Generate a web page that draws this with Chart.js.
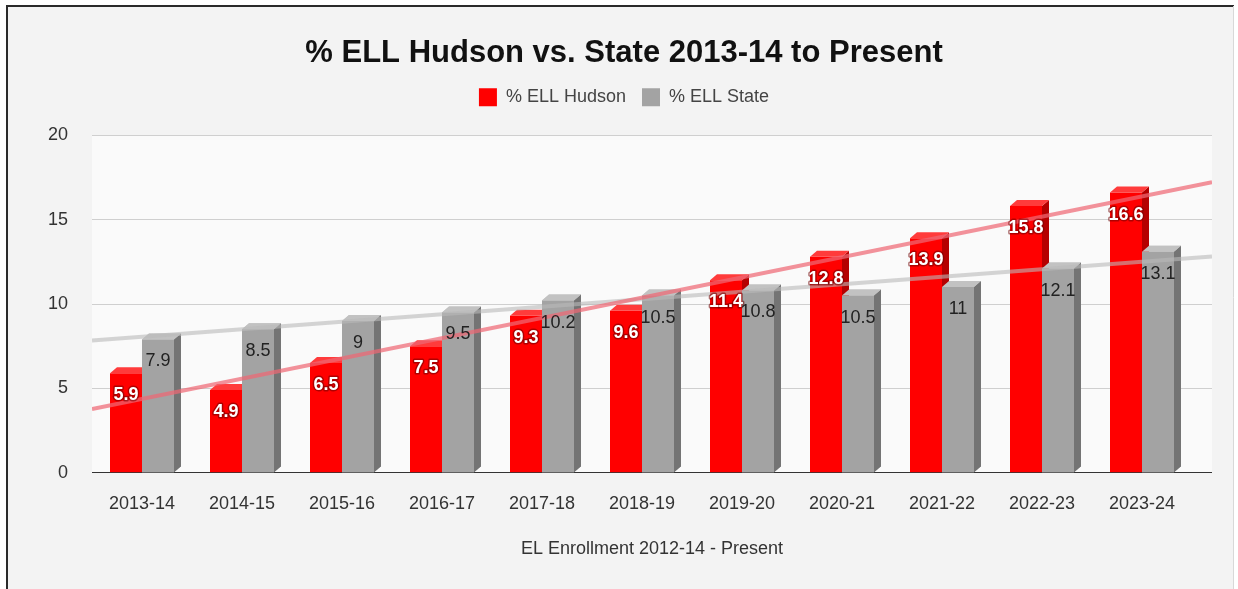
<!DOCTYPE html>
<html>
<head>
<meta charset="utf-8">
<script src="https://cdn.jsdelivr.net/npm/chart.js@4/dist/chart.umd.min.js"></script>
<style>
  html, body { margin: 0; padding: 0; background: #fff; }
  #wrap { width: 1238px; height: 589px; }
</style>
</head>
<body>
<div id="wrap"><canvas id="ellChart" width="1238" height="589"></canvas></div>
<script>
const categories = ['2013-14', '2014-15', '2015-16', '2016-17', '2017-18', '2018-19',
  '2019-20', '2020-21', '2021-22', '2022-23', '2023-24'];
const hudsonValues = [5.9, 4.9, 6.5, 7.5, 9.3, 9.6, 11.4, 12.8, 13.9, 15.8, 16.6];
const stateValues = [7.9, 8.5, 9, 9.5, 10.2, 10.5, 10.8, 10.5, 11, 12.1, 13.1];
const yTicks = [0, 5, 10, 15, 20];

const X_MIN = -0.5;
const X_MAX = 10.7;
const FONT = "'Liberation Sans', Arial, sans-serif";

// least squares trend line, like the sheet's trendline option
function linearFit(values) {
  const n = values.length;
  const mx = (n - 1) / 2;
  const my = values.reduce((a, b) => a + b, 0) / n;
  let sxy = 0, sxx = 0;
  values.forEach((v, i) => { sxy += (i - mx) * (v - my); sxx += (i - mx) * (i - mx); });
  const slope = sxy / sxx;
  return { slope: slope, intercept: my - slope * mx };
}

function trendPoints(values) {
  const fit = linearFit(values);
  return [X_MIN, X_MAX].map(x => ({ x: x, y: fit.intercept + fit.slope * x }));
}

function barPoints(values) {
  return values.map((v, i) => ({ x: i, y: v }));
}

const DEPTH_X = 7;
const DEPTH_Y = 6;

const framePlugin = {
  id: 'frame',
  beforeDraw(chart) {
    const ctx = chart.ctx;
    ctx.save();
    ctx.fillStyle = '#ffffff';
    ctx.fillRect(0, 0, chart.width, chart.height);
    ctx.fillStyle = '#f3f3f3';
    ctx.fillRect(8, 7, 1225, 582);
    ctx.fillStyle = '#fafafa';
    const a = chart.chartArea;
    ctx.fillRect(a.left, a.top, a.right - a.left, a.bottom - a.top);
    ctx.strokeStyle = '#2a2a2a';
    ctx.lineWidth = 2;
    ctx.beginPath();
    ctx.moveTo(7, 589);
    ctx.lineTo(7, 6);
    ctx.lineTo(1234, 6);
    ctx.stroke();
    ctx.strokeStyle = '#d8d8d8';
    ctx.lineWidth = 1;
    ctx.beginPath();
    ctx.moveTo(1233.5, 6);
    ctx.lineTo(1233.5, 589);
    ctx.stroke();
    ctx.restore();
  }
};

function drawFaces(ctx, meta, ds) {
  meta.data.forEach(bar => {
    const p = bar.getProps(['x', 'y', 'base', 'width'], true);
    const left = p.x - p.width / 2;
    const right = p.x + p.width / 2;
    ctx.fillStyle = ds.sideColor;
    ctx.beginPath();
    ctx.moveTo(right, p.y);
    ctx.lineTo(right + DEPTH_X, p.y - DEPTH_Y);
    ctx.lineTo(right + DEPTH_X, p.base - DEPTH_Y);
    ctx.lineTo(right, p.base);
    ctx.closePath();
    ctx.fill();
    ctx.fillStyle = ds.topColor;
    ctx.beginPath();
    ctx.moveTo(left, p.y);
    ctx.lineTo(left + DEPTH_X, p.y - DEPTH_Y);
    ctx.lineTo(right + DEPTH_X, p.y - DEPTH_Y);
    ctx.lineTo(right, p.y);
    ctx.closePath();
    ctx.fill();
  });
}

const bar3dPlugin = {
  id: 'bar3d',
  afterDatasetDraw(chart, args) {
    const meta = args.meta;
    if (meta.type !== 'bar') return;
    const ds = chart.data.datasets[args.index];
    const ctx = chart.ctx;
    ctx.save();
    drawFaces(ctx, meta, ds);
    // the bar behind (to the right) has to cover this one's side again
    if (ds.coveredBy !== undefined) {
      const backMeta = chart.getDatasetMeta(ds.coveredBy);
      backMeta.data.forEach(bar => bar.draw(ctx));
      drawFaces(ctx, backMeta, chart.data.datasets[ds.coveredBy]);
    }
    ctx.restore();
  }
};

const valueLabelPlugin = {
  id: 'valueLabels',
  afterDatasetsDraw(chart) {
    const ctx = chart.ctx;
    ctx.save();
    ctx.textAlign = 'center';
    ctx.textBaseline = 'middle';
    chart.data.datasets.forEach((ds, di) => {
      const meta = chart.getDatasetMeta(di);
      if (meta.type !== 'bar') return;
      meta.data.forEach((bar, i) => {
        const p = bar.getProps(['x', 'y'], true);
        const text = String(ds.data[i].y);
        const ty = p.y + 22;
        if (ds.labelStroke) {
          ctx.font = 'bold 18px ' + FONT;
          ctx.lineJoin = 'round';
          ctx.lineWidth = 3;
          ctx.strokeStyle = ds.labelStroke;
          ctx.strokeText(text, p.x, ty);
        } else {
          ctx.font = '18px ' + FONT;
        }
        ctx.fillStyle = ds.labelColor;
        ctx.fillText(text, p.x, ty);
      });
    });
    ctx.restore();
  }
};

// push the plot down below the legend
const legendGapPlugin = {
  id: 'legendGap',
  beforeInit(chart) {
    const origFit = chart.legend.fit;
    chart.legend.fit = function () {
      origFit.bind(chart.legend)();
      this.height += 19;
    };
  }
};

const ctx = document.getElementById('ellChart').getContext('2d');
const chart = new Chart(ctx, {
  data: {
    datasets: [
      {
        type: 'line',
        label: 'Hudson trend',
        data: trendPoints(hudsonValues),
        borderColor: 'rgba(238, 104, 116, 0.72)',
        borderWidth: 4,
        pointRadius: 0,
        order: 1
      },
      {
        type: 'line',
        label: 'State trend',
        data: trendPoints(stateValues),
        borderColor: 'rgba(185, 185, 185, 0.6)',
        borderWidth: 4,
        pointRadius: 0,
        order: 1
      },
      {
        type: 'bar',
        label: '% ELL Hudson',
        data: barPoints(hudsonValues),
        backgroundColor: '#ff0000',
        sideColor: '#b50000',
        topColor: '#ff3b3b',
        labelColor: '#ffffff',
        labelStroke: 'rgba(110, 0, 0, 0.55)',
        coveredBy: 3,
        categoryPercentage: 0.64,
        barPercentage: 1.0,
        order: 2
      },
      {
        type: 'bar',
        label: '% ELL State',
        data: barPoints(stateValues),
        backgroundColor: '#a3a3a3',
        sideColor: '#747474',
        topColor: '#c2c2c2',
        labelColor: '#222222',
        categoryPercentage: 0.64,
        barPercentage: 1.0,
        order: 3
      }
    ]
  },
  options: {
    responsive: false,
    animation: false,
    layout: { padding: { left: 36, right: 26, top: 0, bottom: 25 } },
    plugins: {
      title: {
        display: true,
        text: '% ELL Hudson vs. State 2013-14 to Present',
        color: '#111',
        font: { family: FONT, size: 31, weight: 'bold' },
        padding: { top: 35, bottom: 0 }
      },
      legend: {
        display: true,
        position: 'top',
        labels: {
          filter: item => item.datasetIndex >= 2,
          boxWidth: 18,
          boxHeight: 18,
          color: '#444',
          font: { family: FONT, size: 18 },
          padding: 16
        }
      },
      tooltip: { enabled: false }
    },
    scales: {
      x: {
        type: 'linear',
        offset: false,
        min: X_MIN,
        max: X_MAX,
        grid: { display: false, drawTicks: false },
        border: { display: false },
        ticks: {
          stepSize: 1,
          includeBounds: false,
          padding: 20,
          color: '#333',
          font: { family: FONT, size: 18 },
          callback: v => (Number.isInteger(v) && categories[v] !== undefined) ? categories[v] : ''
        },
        title: {
          display: true,
          text: 'EL Enrollment 2012-14 - Present',
          color: '#333',
          font: { family: FONT, size: 18 },
          padding: { top: 4, bottom: 4 }
        }
      },
      y: {
        min: yTicks[0],
        max: yTicks[yTicks.length - 1],
        afterFit: scale => { scale.width = 56; },
        afterBuildTicks: scale => { scale.ticks = yTicks.map(v => ({ value: v })); },
        grid: {
          drawTicks: false,
          color: c => c.tick && c.tick.value === 0 ? '#333' : '#cfcfcf',
          lineWidth: 1
        },
        border: { display: false },
        ticks: {
          padding: 24,
          color: '#333',
          font: { family: FONT, size: 18 }
        }
      }
    }
  },
  plugins: [framePlugin, bar3dPlugin, valueLabelPlugin, legendGapPlugin]
});
</script>
</body>
</html>
